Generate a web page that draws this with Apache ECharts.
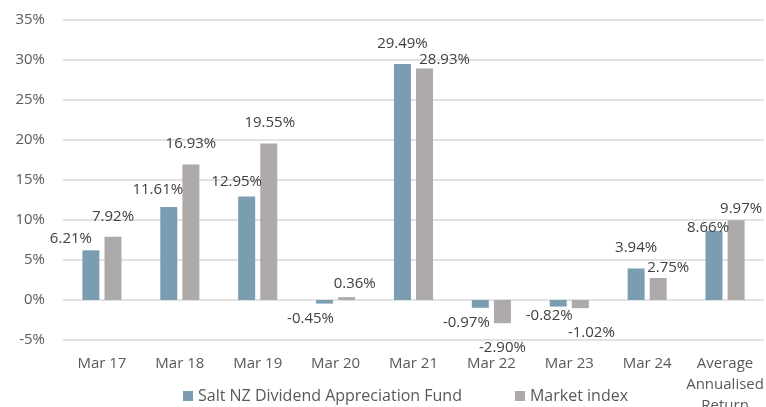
<!DOCTYPE html>
<html>
<head>
<meta charset="utf-8">
<script src="https://cdn.jsdelivr.net/npm/echarts@6/dist/echarts.min.js"></script>
<style>
  html, body { margin: 0; padding: 0; background: #fff; }
  #main { width: 766px; height: 407px; }
</style>
</head>
<body>
<div id="main"></div>
<script>
const categories = ['Mar 17', 'Mar 18', 'Mar 19', 'Mar 20', 'Mar 21', 'Mar 22', 'Mar 23', 'Mar 24', 'Average\nAnnualised\nReturn'];
const fundValues = [6.21, 11.61, 12.95, -0.45, 29.49, -0.97, -0.82, 3.94, 8.66];
const marketValues = [7.92, 16.93, 19.55, 0.36, 28.93, -2.90, -1.02, 2.75, 9.97];
const yTicks = { min: -5, max: 35, interval: 5 };

// hand-placed label nudges, like the original spreadsheet chart
const fundLabelShift = [[-20, 1], [-11, -5], [-10, -2], [-14, 3], [0, -8], [-14, 2], [-9, -3], [0, -8], [-6, 10]];
const marketLabelShift = [[0, -7], [0, -8], [1, -8], [8, -1], [20, 4], [0, 12], [11, 12], [10, 2], [5, 1]];

const font = '"Open Sans", Lato, sans-serif';

function buildData(values, shifts) {
  return values.map((v, i) => ({
    value: v,
    label: {
      position: v < 0 ? 'bottom' : 'top',
      offset: shifts[i]
    }
  }));
}

const chart = echarts.init(document.getElementById('main'));

const labelStyle = {
  show: true,
  distance: 5,
  fontFamily: font,
  fontSize: 15,
  color: '#404040',
  formatter: (p) => p.value.toFixed(2) + '%'
};

chart.setOption({
  animation: false,
  grid: { left: 63, right: 2, top: 20, bottom: 67, outerBoundsMode: 'none' },
  legend: {
    left: 178,
    top: 383,
    icon: 'rect',
    itemWidth: 10,
    itemHeight: 10,
    itemGap: 53,
    textStyle: { fontFamily: font, fontSize: 16, color: '#595959' }
  },
  xAxis: {
    type: 'category',
    data: categories,
    axisLine: { show: false, onZero: false },
    axisTick: { show: false },
    axisLabel: {
      interval: 0,
      margin: 13,
      fontFamily: font,
      fontSize: 15,
      lineHeight: 21,
      color: '#595959'
    }
  },
  yAxis: {
    type: 'value',
    min: yTicks.min,
    max: yTicks.max,
    interval: yTicks.interval,
    axisLabel: {
      margin: 18,
      fontFamily: font,
      fontSize: 15,
      color: '#595959',
      formatter: '{value}%'
    },
    splitLine: { lineStyle: { color: '#d9d9d9', width: 1.5 } }
  },
  series: [
    {
      name: 'Salt NZ Dividend Appreciation Fund',
      type: 'bar',
      barWidth: 17,
      barGap: '30%',
      itemStyle: { color: '#7b9db1' },
      label: labelStyle,
      data: buildData(fundValues, fundLabelShift)
    },
    {
      name: 'Market index',
      type: 'bar',
      barWidth: 17,
      itemStyle: { color: '#afaaaa' },
      label: labelStyle,
      data: buildData(marketValues, marketLabelShift)
    }
  ]
});
</script>
</body>
</html>
